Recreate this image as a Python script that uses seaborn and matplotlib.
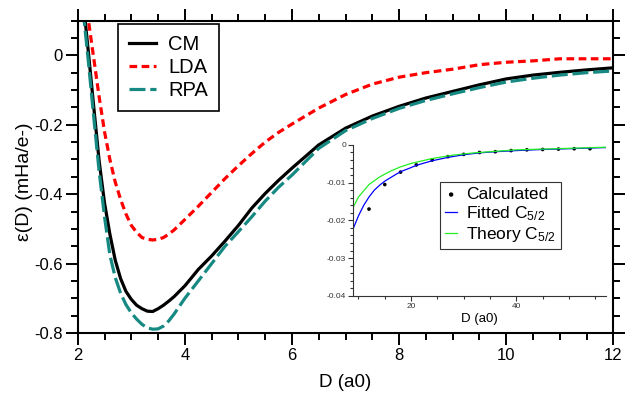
import pandas as pd
import matplotlib
matplotlib.use("Agg")
import matplotlib.pyplot as plt
from matplotlib.ticker import MultipleLocator, FuncFormatter
import seaborn as sns

plt.rcParams.update({
    "font.family": ["Liberation Sans", "DejaVu Sans"],
    "mathtext.default": "regular",
    "axes.unicode_minus": False,
    "axes.grid": False,
})

# main panel: interaction energy eps(D) in mHa/e-
D = [2.1, 2.2, 2.3, 2.4, 2.5, 2.6, 2.7, 2.8, 2.9, 3.0, 3.1, 3.2, 3.3, 3.4, 3.5, 3.6, 3.7, 3.8,
     4.0, 4.25, 4.5, 4.75, 5.0, 5.25, 5.5, 5.75, 6.0, 6.5, 7.0, 7.5, 8.0, 8.5, 9.0, 9.5, 10.0,
     10.5, 11.0, 11.5, 12.0]
CM = [0.16, 0.007, -0.15, -0.305, -0.425, -0.515, -0.59, -0.643, -0.68, -0.703, -0.72, -0.73,
      -0.737, -0.738, -0.73, -0.72, -0.708, -0.695, -0.664, -0.617, -0.578, -0.535, -0.49,
      -0.44, -0.398, -0.36, -0.325, -0.258, -0.21, -0.175, -0.147, -0.123, -0.104, -0.085,
      -0.068, -0.057, -0.049, -0.042, -0.036]
LDA = [0.26, 0.10, -0.01, -0.12, -0.22, -0.30, -0.365, -0.415, -0.457, -0.49, -0.51, -0.525,
       -0.53, -0.532, -0.53, -0.525, -0.515, -0.503, -0.473, -0.435, -0.395, -0.355, -0.318,
       -0.283, -0.25, -0.222, -0.198, -0.152, -0.113, -0.083, -0.063, -0.05, -0.04, -0.027,
       -0.02, -0.016, -0.01, -0.01, -0.01]
RPA = [0.13, -0.02, -0.18, -0.335, -0.465, -0.575, -0.64, -0.685, -0.718, -0.742, -0.76,
       -0.775, -0.785, -0.789, -0.788, -0.78, -0.765, -0.745, -0.70, -0.65, -0.60, -0.55,
       -0.508, -0.465, -0.42, -0.38, -0.345, -0.268, -0.217, -0.182, -0.153, -0.13, -0.111,
       -0.093, -0.077, -0.066, -0.057, -0.05, -0.045]
methods = ["CM", "LDA", "RPA"]

# inset: long-range tail
D_calc = [12, 15, 18, 21, 24, 27, 30, 33, 36, 39, 42, 45, 48, 51, 54]
calc = [-0.0170, -0.0105, -0.0072, -0.0053, -0.0040, -0.0031, -0.0025, -0.0020, -0.0018,
        -0.0015, -0.0013, -0.0012, -0.0011, -0.0010, -0.0010]
D_fit = [9, 10, 11, 12, 13, 14, 15, 17, 18, 20, 21, 24, 27, 30, 33, 36, 40, 45, 50, 57]
fit = [-0.0222, -0.0188, -0.0160, -0.0138, -0.0120, -0.0107, -0.0096, -0.0079, -0.0071,
       -0.0060, -0.0054, -0.0042, -0.0033, -0.0026, -0.0021, -0.0018, -0.0015, -0.0012,
       -0.0010, -0.0007]
D_theory = [9, 10, 12, 14, 16, 18, 20, 24, 28, 32, 36, 40, 45, 50, 57]
theory = [-0.0165, -0.0138, -0.0105, -0.0085, -0.0070, -0.0058, -0.0049, -0.0036, -0.0027,
          -0.0021, -0.0017, -0.0013, -0.0011, -0.0009, -0.0006]

df = pd.DataFrame({
    "D": D * 3,
    "eps": CM + LDA + RPA,
    "Method": [m for m in methods for _ in D],
})

palette = {"CM": "black", "LDA": "#ff0000", "RPA": "#168a82"}
dashes = {"CM": "", "LDA": (2.4, 1.4), "RPA": (5, 1.5)}

fig = plt.figure(figsize=(6.33, 3.96), dpi=100)
ax = fig.add_axes([0.1228, 0.159, 0.8462, 0.789])

sns.lineplot(data=df, x="D", y="eps", hue="Method", style="Method", hue_order=methods,
             style_order=methods, palette=palette, dashes=dashes, linewidth=2.3,
             estimator=None, sort=False, ax=ax)

fmt = FuncFormatter(lambda v, p: "0" if abs(v) < 1e-9 else f"{v:g}")
ax.set_xlim(2, 12)
ax.set_ylim(-0.8, 0.1)
ax.xaxis.set_major_locator(MultipleLocator(2))
ax.xaxis.set_minor_locator(MultipleLocator(0.5))
ax.yaxis.set_major_locator(MultipleLocator(0.2))
ax.yaxis.set_minor_locator(MultipleLocator(0.05))
ax.yaxis.set_major_formatter(fmt)
ax.tick_params(which="both", direction="out", bottom=True, left=True, top=True, right=True,
               labeltop=False, labelright=False, width=1.4, color="black", labelcolor="black")
ax.tick_params(which="major", length=8.5, labelsize=12, pad=2.5)
ax.tick_params(which="minor", length=4.8)
for s in ax.spines.values():
    s.set_linewidth(1.5)
    s.set_color("black")

ax.set_xlabel("D (a0)", fontsize=13.5)
ax.set_ylabel("ε(D) (mHa/e-)", fontsize=14)
ax.xaxis.set_label_coords(0.5, -0.13)
ax.yaxis.set_label_coords(-0.083, 0.485)

handles, labels = ax.get_legend_handles_labels()
leg = ax.legend(handles, labels, loc="upper left", bbox_to_anchor=(0.075, 0.989),
                borderaxespad=0, fontsize=14.5, frameon=True, fancybox=False,
                edgecolor="black", framealpha=1, handlelength=1.35, handletextpad=0.6,
                labelspacing=0.2, borderpad=0.55)
leg.get_frame().set_linewidth(1.2)
for h in leg.get_lines():
    h.set_linewidth(2.3)

# inset
ax_in = fig.add_axes([0.558, 0.253, 0.399, 0.381])
ax_in.patch.set_alpha(0)
sns.scatterplot(x=D_calc, y=calc, color="black", s=7, edgecolor="none",
                label="Calculated", ax=ax_in)
sns.lineplot(x=D_fit, y=fit, color="#0000ff", linewidth=0.9, label="Fitted C$_{5/2}$", ax=ax_in)
sns.lineplot(x=D_theory, y=theory, color="#22ee22", linewidth=0.9,
             label="Theory C$_{5/2}$", ax=ax_in)
ax_in.set_xlim(9, 57)
ax_in.set_ylim(-0.04, 0)
ax_in.xaxis.set_major_locator(MultipleLocator(20))
ax_in.xaxis.set_minor_locator(MultipleLocator(5))
ax_in.yaxis.set_major_locator(MultipleLocator(0.01))
ax_in.yaxis.set_minor_locator(MultipleLocator(0.002))
ax_in.yaxis.set_major_formatter(fmt)
ax_in.tick_params(which="both", direction="out", bottom=True, left=True, top=False,
                  right=False, width=0.8, color="#333333", labelcolor="#333333",
                  labelsize=6, pad=1.5)
ax_in.tick_params(which="major", length=3.5)
ax_in.tick_params(which="minor", length=2)
ax_in.spines["top"].set_visible(False)
ax_in.spines["right"].set_visible(False)
for s in ("left", "bottom"):
    ax_in.spines[s].set_linewidth(0.8)
    ax_in.spines[s].set_color("#333333")
ax_in.set_xlabel("D (a0)", fontsize=9.5, labelpad=2)
ax_in.set_ylabel("")

leg_in = ax_in.legend(loc="upper left", bbox_to_anchor=(0.343, 0.756), borderaxespad=0,
                      fontsize=12.5, frameon=True, fancybox=False, edgecolor="#333333",
                      framealpha=1, handlelength=0.7, handletextpad=0.5, labelspacing=0.12,
                      borderpad=0.3, markerscale=1.2)
leg_in.get_frame().set_linewidth(0.8)

fig.savefig("out.png", dpi=100)
